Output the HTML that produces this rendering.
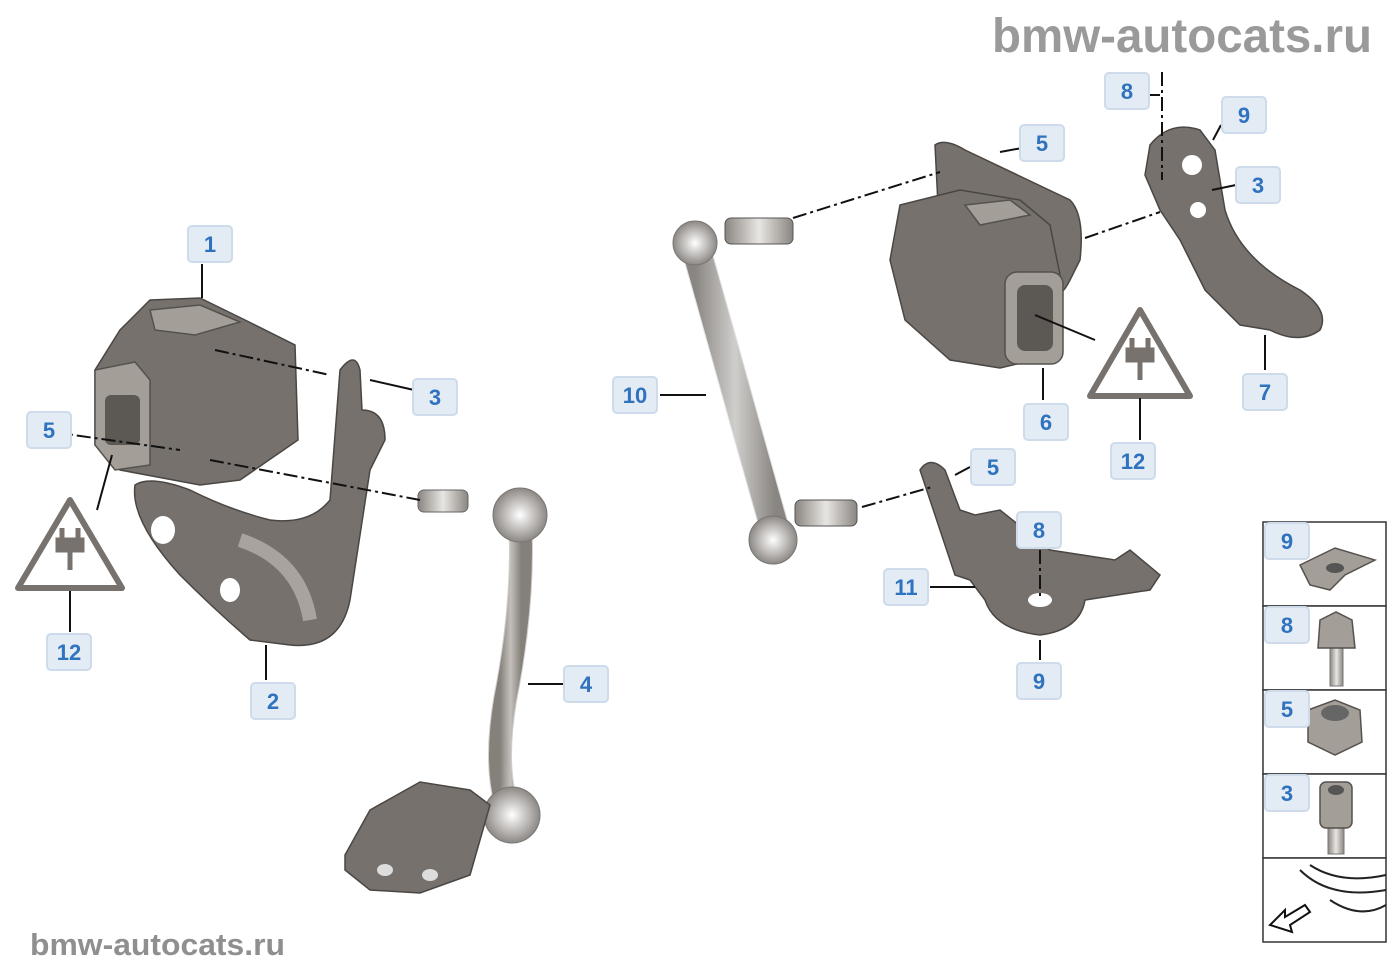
<!DOCTYPE html>
<html><head><meta charset="utf-8"><style>
html,body{margin:0;padding:0;background:#fff;width:1400px;height:980px;overflow:hidden}
svg{display:block}
.lb rect{fill:#e3ebf5;stroke:#cddbea;stroke-width:2}
.lb text{fill:#2f72be;font:bold 22px "Liberation Sans",sans-serif;text-anchor:middle}
.ln{stroke:#111;stroke-width:2;fill:none}
.dl{stroke:#111;stroke-width:2;fill:none;stroke-dasharray:14 4 3 4}
.p{fill:#76716c;stroke:#4a4643;stroke-width:1.5}
.pl{fill:#a39e98;stroke:#55514d;stroke-width:1.5}
.wm{fill:#9a9a9a;font:bold 48px "Liberation Sans",sans-serif}
</style></head><body>
<svg width="1400" height="980" viewBox="0 0 1400 980">
<defs>
<linearGradient id="rod" x1="0" x2="1"><stop offset="0" stop-color="#8a8580"/><stop offset=".5" stop-color="#e8e6e3"/><stop offset="1" stop-color="#8a8580"/></linearGradient>
<radialGradient id="ball"><stop offset="0" stop-color="#fff"/><stop offset="1" stop-color="#8d8884"/></radialGradient>
</defs>
<text class="wm" x="992" y="52" textLength="380" lengthAdjust="spacingAndGlyphs">bmw-autocats.ru</text>
<text x="30" y="955" textLength="255" lengthAdjust="spacingAndGlyphs" style="fill:#8f8f8f;font:bold 31px 'Liberation Sans',sans-serif">bmw-autocats.ru</text>

<path class="p" d="M340 370 Q355 350 360 370 L362 410 Q385 410 385 440 L370 470 L350 600 Q340 650 290 645 L250 640 Q215 610 180 575 Q130 520 135 485 Q150 475 190 490 Q230 510 270 520 Q310 525 330 500 Z"/>
<ellipse cx="163" cy="530" rx="12" ry="14" fill="#fff"/>
<ellipse cx="230" cy="590" rx="10" ry="12" fill="#fff"/>
<path d="M240 540 Q300 560 310 620" stroke="#c9c5c0" stroke-width="14" fill="none" opacity=".6"/>
<path class="p" d="M150 300 L200 298 L245 320 L295 345 L298 440 L240 480 L200 485 L120 470 L95 445 L95 370 L120 330 Z"/>
<path class="pl" d="M95 370 L135 362 L150 380 L150 465 L115 470 L95 445 Z"/>
<rect x="105" y="395" width="35" height="50" rx="6" fill="#5c5854"/>
<path class="pl" d="M150 310 L200 305 L240 322 L195 335 L155 330 Z"/>
<rect x="418" y="490" width="50" height="22" rx="6" fill="url(#rod)" stroke="#666"/>
<path d="M520 515 Q525 600 505 700 Q495 760 505 800" stroke="url(#rod)" stroke-width="22" fill="none"/>
<path d="M520 515 Q525 600 505 700 Q495 760 505 800" stroke="#7d7873" stroke-width="24" fill="none" opacity=".35"/>
<circle cx="520" cy="515" r="27" fill="url(#ball)" stroke="#777"/>
<circle cx="512" cy="815" r="28" fill="url(#ball)" stroke="#777"/>
<path class="p" d="M345 855 L370 810 L420 782 L470 790 L490 805 L480 840 L470 875 L420 893 L370 890 L345 870 Z"/>
<ellipse cx="385" cy="870" rx="8" ry="6" fill="#ddd"/>
<ellipse cx="430" cy="875" rx="8" ry="6" fill="#ddd"/>

<path d="M695 245 L775 530" stroke="url(#rod)" stroke-width="28" stroke-linecap="round"/>
<path d="M695 245 L775 530" stroke="#888" stroke-width="30" fill="none" opacity=".25"/>
<circle cx="695" cy="243" r="22" fill="url(#ball)" stroke="#777"/>
<circle cx="773" cy="540" r="24" fill="url(#ball)" stroke="#777"/>
<rect x="725" y="218" width="68" height="26" rx="6" fill="url(#rod)" stroke="#555"/>
<rect x="795" y="500" width="62" height="26" rx="6" fill="url(#rod)" stroke="#555"/>
<path class="p" d="M935 145 Q945 138 965 150 L1070 200 Q1085 215 1080 260 L1070 280 Q1060 300 1050 295 L940 245 Z"/>
<path class="p" d="M900 205 L960 190 L1020 200 L1050 225 L1060 275 L1055 355 L1000 368 L950 360 L905 320 L890 260 Z"/>
<path class="pl" d="M965 205 L1010 200 L1030 215 L980 225 Z"/>
<rect x="1005" y="272" width="58" height="92" rx="12" class="pl"/>
<rect x="1017" y="285" width="36" height="66" rx="8" fill="#5c5854"/>
<path class="p" d="M1150 145 Q1170 120 1200 130 L1215 150 L1225 210 Q1240 260 1300 290 Q1330 310 1320 330 Q1300 345 1270 330 L1240 325 L1205 290 Q1190 260 1180 240 L1160 210 L1145 175 Z"/>
<circle cx="1192" cy="165" r="10" fill="#fff"/>
<circle cx="1198" cy="210" r="8" fill="#fff"/>
<path class="p" d="M920 470 Q930 455 945 470 L960 510 L975 515 L1000 510 L1050 550 L1115 560 L1130 550 L1160 575 L1150 590 L1085 600 Q1080 630 1040 635 Q995 630 985 600 L970 580 L955 575 Z"/>
<ellipse cx="1040" cy="600" rx="12" ry="7" fill="#fff"/>

<path d="M70 500 L122 588 L18 588 Z" fill="#fff" stroke="#77726d" stroke-width="6" stroke-linejoin="round"/>
<path d="M62 528 v12 M78 528 v12 M58 540 h24 v10 h-24 z M70 550 v20" stroke="#77726d" stroke-width="5" fill="#77726d"/>
<path d="M1140 310 L1190 396 L1090 396 Z" fill="#fff" stroke="#77726d" stroke-width="6" stroke-linejoin="round"/>
<path d="M1132 338 v12 M1148 338 v12 M1128 350 h24 v10 h-24 z M1140 360 v20" stroke="#77726d" stroke-width="5" fill="#77726d"/>

<path class="ln" d="M202 264 V298 M370 380 L414 390 M70 591 V632 M266 645 V680 M528 684 H563 M660 395 H706 M1022 148 L1000 152 M1150 95 L1160 95 M1221 125 L1213 140 M1236 185 L1212 190 M1043 368 V400 M1140 398 V440 M1265 335 V370 M970 467 L955 475 M930 587 H975 M1040 640 V660 M97 510 L112 455 M1035 315 L1095 340"/>
<path class="dl" d="M215 350 L330 375 M52 432 L180 450 M210 460 L420 500 M793 218 L940 172 M1085 238 L1160 212 M862 507 L932 487 M1162 72 V180 M1040 550 V600"/>

<g fill="#fff" stroke="#333" stroke-width="1.5">
<rect x="1263" y="522" width="123" height="84"/><rect x="1263" y="606" width="123" height="84"/>
<rect x="1263" y="690" width="123" height="84"/><rect x="1263" y="774" width="123" height="84"/>
<rect x="1263" y="858" width="123" height="84"/>
</g>
<path class="pl" d="M1300 565 L1335 548 L1375 560 L1345 575 L1330 590 L1310 585 Z"/>
<ellipse cx="1335" cy="568" rx="9" ry="5" fill="#555"/>
<rect x="1330" y="648" width="13" height="38" fill="url(#rod)" stroke="#777"/>
<path class="pl" d="M1320 620 L1336 612 L1352 620 L1355 648 L1318 648 Z"/>
<path class="pl" d="M1308 710 L1335 700 L1360 710 L1362 742 L1335 755 L1308 742 Z"/>
<ellipse cx="1335" cy="713" rx="14" ry="8" fill="#666"/>
<rect x="1328" y="828" width="16" height="26" fill="url(#rod)" stroke="#777"/>
<rect x="1320" y="782" width="32" height="46" rx="6" class="pl"/>
<ellipse cx="1336" cy="790" rx="8" ry="5" fill="#555"/>
<path d="M1300 870 Q1330 900 1386 890 M1310 865 Q1340 885 1386 875 M1330 900 Q1360 920 1386 905" stroke="#222" stroke-width="2" fill="none"/>
<path d="M1270 925 L1285 910 L1285 917 L1305 905 L1310 912 L1290 925 L1292 932 Z" fill="#fff" stroke="#111" stroke-width="2"/>

<g class="lb">
<g transform="translate(210,244)"><rect x="-22" y="-18" width="44" height="36" rx="4"/><text y="8">1</text></g>
<g transform="translate(435,397)"><rect x="-22" y="-18" width="44" height="36" rx="4"/><text y="8">3</text></g>
<g transform="translate(49,430)"><rect x="-22" y="-18" width="44" height="36" rx="4"/><text y="8">5</text></g>
<g transform="translate(69,652)"><rect x="-22" y="-18" width="44" height="36" rx="4"/><text y="8">12</text></g>
<g transform="translate(273,701)"><rect x="-22" y="-18" width="44" height="36" rx="4"/><text y="8">2</text></g>
<g transform="translate(586,684)"><rect x="-22" y="-18" width="44" height="36" rx="4"/><text y="8">4</text></g>
<g transform="translate(635,395)"><rect x="-22" y="-18" width="44" height="36" rx="4"/><text y="8">10</text></g>
<g transform="translate(1042,143)"><rect x="-22" y="-18" width="44" height="36" rx="4"/><text y="8">5</text></g>
<g transform="translate(1127,91)"><rect x="-22" y="-18" width="44" height="36" rx="4"/><text y="8">8</text></g>
<g transform="translate(1244,115)"><rect x="-22" y="-18" width="44" height="36" rx="4"/><text y="8">9</text></g>
<g transform="translate(1258,185)"><rect x="-22" y="-18" width="44" height="36" rx="4"/><text y="8">3</text></g>
<g transform="translate(1046,422)"><rect x="-22" y="-18" width="44" height="36" rx="4"/><text y="8">6</text></g>
<g transform="translate(1133,461)"><rect x="-22" y="-18" width="44" height="36" rx="4"/><text y="8">12</text></g>
<g transform="translate(1265,392)"><rect x="-22" y="-18" width="44" height="36" rx="4"/><text y="8">7</text></g>
<g transform="translate(993,467)"><rect x="-22" y="-18" width="44" height="36" rx="4"/><text y="8">5</text></g>
<g transform="translate(1039,530)"><rect x="-22" y="-18" width="44" height="36" rx="4"/><text y="8">8</text></g>
<g transform="translate(906,587)"><rect x="-22" y="-18" width="44" height="36" rx="4"/><text y="8">11</text></g>
<g transform="translate(1039,681)"><rect x="-22" y="-18" width="44" height="36" rx="4"/><text y="8">9</text></g>
<g transform="translate(1287,541)"><rect x="-22" y="-18" width="44" height="36" rx="4"/><text y="8">9</text></g>
<g transform="translate(1287,625)"><rect x="-22" y="-18" width="44" height="36" rx="4"/><text y="8">8</text></g>
<g transform="translate(1287,709)"><rect x="-22" y="-18" width="44" height="36" rx="4"/><text y="8">5</text></g>
<g transform="translate(1287,793)"><rect x="-22" y="-18" width="44" height="36" rx="4"/><text y="8">3</text></g>
</g>
</svg>
</body></html>
